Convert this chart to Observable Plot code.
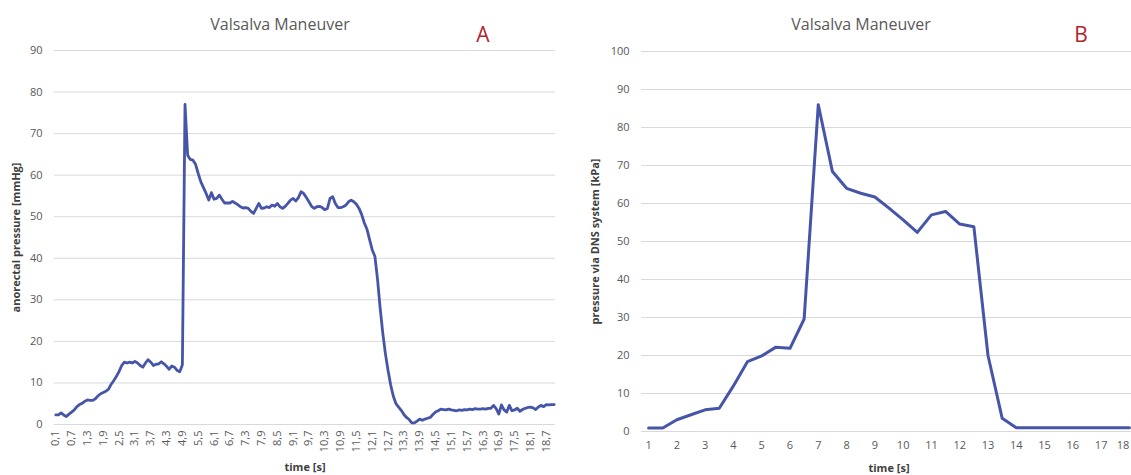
<!DOCTYPE html>
<html>
<head>
<meta charset="utf-8">
<script src="https://cdn.jsdelivr.net/npm/d3@7"></script>
<script src="https://cdn.jsdelivr.net/npm/@observablehq/plot@0.6"></script>
<style>
html, body { margin: 0; padding: 0; background: #fff; }
#wrap { position: relative; width: 1131px; height: 475px; overflow: hidden; font-family: "Open Sans", sans-serif; }
.panel { position: absolute; top: 0; }
#wrap svg { max-width: none !important; }
.title { position: absolute; font-size: 16px; color: #595959; transform: translate(-50%, -50%); white-space: nowrap; }
.letter { position: absolute; font-size: 21px; color: #b0272d; transform: translate(-50%, -50%); }
#wrap svg [aria-label$="axis label"] text { font-weight: bold; fill: #404040; }
</style>
</head>
<body>
<div id="wrap">
  <div class="panel" id="pa" style="left:0px;width:570px"></div>
  <div class="panel" id="pb" style="left:560px;width:580px"></div>
  <div class="title" style="left:280px;top:24px">Valsalva Maneuver</div>
  <div class="letter" style="left:483px;top:34px">A</div>
  <div class="title" style="left:861px;top:24px">Valsalva Maneuver</div>
  <div class="letter" style="left:1081px;top:34px">B</div>
</div>
<script>
// ---- Panel A: anorectal pressure, sampled every 0.1 s from 0.1 s to 19.0 s ----
const valuesA = [
  2.3, 2.3, 2.8, 2.3, 1.9, 2.5, 3.0, 3.5, 4.3, 4.8,
  5.1, 5.6, 5.9, 5.8, 5.8, 6.2, 6.9, 7.4, 7.7, 8.0,
  8.5, 9.7, 10.6, 11.6, 12.8, 14.2, 15.0, 14.8, 15.0, 14.8,
  15.2, 14.8, 14.2, 13.8, 14.8, 15.6, 15.0, 14.2, 14.5, 14.6,
  15.1, 14.6, 14.0, 13.3, 14.1, 13.8, 13.0, 12.7, 14.4, 77.0,
  64.8, 63.8, 63.6, 62.6, 60.4, 58.4, 57.0, 55.6, 54.0, 55.8,
  54.2, 54.4, 55.2, 54.2, 53.3, 53.3, 53.3, 53.7, 53.3, 52.9,
  52.4, 52.1, 52.2, 52.0, 51.3, 50.8, 52.0, 53.2, 52.0, 52.1,
  52.4, 52.2, 52.8, 52.5, 53.2, 52.4, 52.0, 52.5, 53.2, 54.0,
  54.4, 53.8, 54.6, 56.0, 55.6, 54.6, 53.6, 52.5, 52.0, 52.4,
  52.5, 52.2, 51.7, 52.0, 54.4, 54.8, 53.2, 52.2, 52.2, 52.4,
  52.8, 53.6, 54.0, 53.6, 53.0, 52.0, 50.5, 48.5, 47.0, 44.5,
  42.0, 40.5, 35.0, 28.0, 22.0, 17.0, 13.0, 9.5, 6.8, 5.0,
  4.2, 3.4, 2.4, 1.7, 1.2, 0.4, 0.4, 0.8, 1.3, 1.0,
  1.3, 1.5, 1.7, 2.4, 3.0, 3.3, 3.7, 3.6, 3.5, 3.7,
  3.5, 3.4, 3.3, 3.5, 3.4, 3.6, 3.5, 3.7, 3.6, 3.8,
  3.7, 3.7, 3.8, 3.7, 3.9, 3.9, 4.6, 3.8, 2.5, 4.7,
  3.5, 3.0, 4.6, 3.3, 3.5, 3.9, 3.2, 3.6, 3.9, 4.1,
  4.2, 4.0, 3.6, 4.2, 4.6, 4.3, 4.8, 4.7, 4.8, 4.8
];
// category positions (sample index → time in seconds)
const timeA = valuesA.map((_, i) => (i + 1) / 10);
const xTickLabelsA = ["0,1","0,7","1,3","1,9","2,5","3,1","3,7","4,3","4,9","5,5","6,1","6,7","7,3","7,9","8,5","9,1","9,7","10,3","10,9","11,5","12,1","12,7","13,3","13,9","14,5","15,1","15,7","16,3","16,9","17,5","18,1","18,7"];
const yTicksA = [0, 10, 20, 30, 40, 50, 60, 70, 80, 90];

// ---- Panel B: pressure via DNS system ----
const timeB = [1, 1.5, 2, 2.5, 3, 3.5, 4, 4.5, 5, 5.5, 6, 6.5, 7, 7.5, 8, 8.5, 9, 9.5, 10, 10.5, 11, 11.5, 12, 12.5, 13, 13.5, 14, 14.5, 15, 15.5, 16, 16.5, 17, 17.5, 18];
const valuesB = [0.9, 0.9, 3.1, 4.4, 5.7, 6.1, 12.0, 18.4, 19.9, 22.2, 21.9, 29.6, 86.0, 68.4, 64.0, 62.7, 61.7, 58.8, 55.7, 52.4, 57.0, 57.9, 54.6, 53.9, 20.0, 3.5, 1.0, 1.0, 1.0, 1.0, 1.0, 1.0, 1.0, 1.0, 1.0];
const xTicksB = [1, 2, 3, 4, 5, 6, 7, 8, 9, 10, 11, 12, 13, 14, 15, 16, 17, 18];
const yTicksB = [0, 10, 20, 30, 40, 50, 60, 70, 80, 90, 100];

const lineColor = "#4655a8";
const gridColor = "#d9d9d9";
const baseStyle = { fontFamily: "Open Sans", fontSize: "11px", color: "#595959", background: "transparent", overflow: "visible" };

const dataA = timeA.map((t, i) => ({ t, v: valuesA[i] }));
const xTickValsA = xTickLabelsA.map(s => +s.replace(",", "."));

const plotA = Plot.plot({
  width: 570, height: 475,
  marginLeft: 54, marginRight: 15, marginTop: 50, marginBottom: 51,
  style: baseStyle,
  x: { type: "linear", domain: [0.05, 19.05] },
  y: { domain: [0, 90] },
  marks: [
    Plot.gridY(yTicksA, { stroke: gridColor, strokeOpacity: 1 }),
    Plot.axisY(yTicksA, { tickSize: 0, tickPadding: 12, label: "anorectal pressure [mmHg]", labelAnchor: "center", labelArrow: "none", labelOffset: 42 }),
    Plot.axisX(xTickValsA, { tickSize: 0, tickPadding: 6, tickRotate: -90, tickFormat: d => xTickLabelsA[xTickValsA.indexOf(d)], label: "time [s]", labelAnchor: "center", labelArrow: "none", labelOffset: 46 }),
    Plot.lineY(dataA, { x: "t", y: "v", stroke: lineColor, strokeWidth: 2.8 })
  ]
});
document.getElementById("pa").appendChild(plotA);

const dataB = timeB.map((t, i) => ({ t, v: valuesB[i] }));
const lastTickB = xTicksB[xTicksB.length - 1];
const plotB = Plot.plot({
  width: 580, height: 475,
  marginLeft: 81, marginRight: 4, marginTop: 51, marginBottom: 44,
  style: baseStyle,
  x: { type: "linear", domain: [0.75, 18.25] },
  y: { domain: [0, 100] },
  marks: [
    Plot.gridY(yTicksB, { stroke: gridColor, strokeOpacity: 1 }),
    Plot.axisY(yTicksB, { tickSize: 0, tickPadding: 12, label: "pressure via DNS system [kPa]", labelAnchor: "center", labelArrow: "none", labelOffset: 50 }),
    Plot.axisX(xTicksB.slice(0, -1), { tickSize: 0, tickPadding: 10, tickFormat: d => String(d), label: "time [s]", labelAnchor: "center", labelArrow: "none", labelOffset: 40 }),
    Plot.axisX([lastTickB], { tickSize: 0, tickPadding: 10, tickFormat: d => String(d), textAnchor: "end", dx: 0, label: null }),
    Plot.lineY(dataB, { x: "t", y: "v", stroke: lineColor, strokeWidth: 3 })
  ]
});
document.getElementById("pb").appendChild(plotB);
</script>
</body>
</html>
